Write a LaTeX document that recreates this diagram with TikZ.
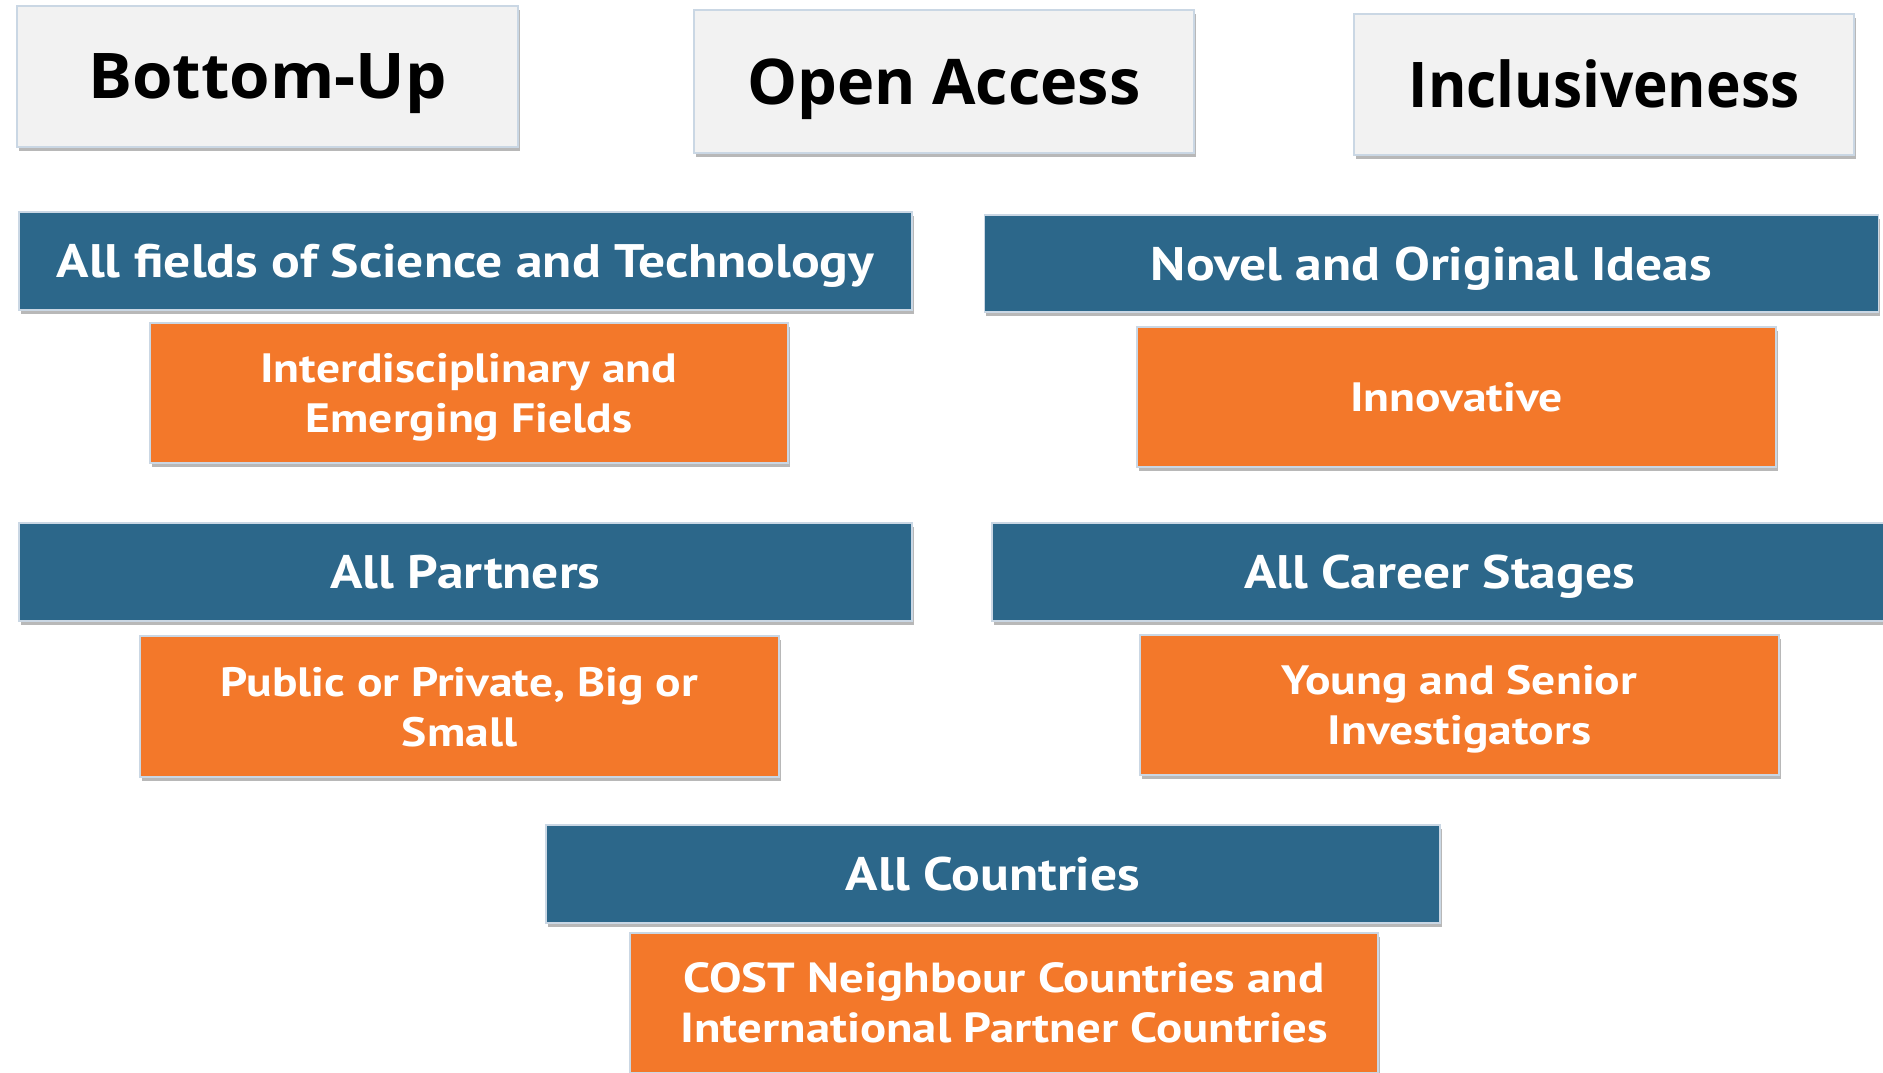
\documentclass[tikz,border=0pt]{standalone}
\usepackage{fontspec}
\usetikzlibrary{shadows}
\newfontfamily\headfont{Open Sans}
\newfontfamily\headwide{Open Sans}[FakeStretch=1.04]
\newfontfamily\headnarrow{Open Sans}[FakeStretch=0.93]
\newfontfamily\gillblue{PT Sans}[FakeStretch=1.14]
\newfontfamily\gillorange{PT Sans}[FakeStretch=1.16]
\definecolor{grayfill}{HTML}{F2F2F2}
\definecolor{boxedge}{HTML}{CAD7E4}
\definecolor{costblue}{HTML}{2C678A}
\definecolor{costorange}{HTML}{F3782A}
\tikzset{
  basebox/.style={rectangle, inner sep=0pt, line width=1.5pt, draw=boxedge, align=center, text depth=0pt,
    drop shadow={shadow xshift=1.5pt, shadow yshift=-4pt, fill=black, opacity=0.28}},
  graybox/.style={basebox, fill=grayfill, text=black, text height=45pt,
    font=\headfont\bfseries\fontsize{63}{76}\selectfont},
  bluebox/.style={basebox, fill=costblue, text=white, text height=33pt,
    font=\gillblue\bfseries\fontsize{47}{56}\selectfont},
  orangebox/.style={basebox, fill=costorange, text=white, text height=29pt,
    font=\gillorange\bfseries\fontsize{41}{50}\selectfont},
  orangetwo/.style={orangebox, text height=79pt},
}
\begin{document}
\begin{tikzpicture}[x=1pt, y=-1pt]
\useasboundingbox (0,0) rectangle (1883,1073);
\node[graybox, font=\headwide\bfseries\fontsize{63}{76}\selectfont, minimum width=501pt, minimum height=141pt] (g1) at (267.5,76.5) {Bottom-Up};
\node[graybox, minimum width=500pt, minimum height=143pt] (g2) at (944,81.5) {Open Access};
\node[graybox, font=\headnarrow\bfseries\fontsize{63}{76}\selectfont, minimum width=500pt, minimum height=141pt] (g3) at (1604,84.5) {Inclusiveness};

\node[bluebox, minimum width=893pt, minimum height=98pt] (b1) at (465.5,261) {All fields of Science and Technology};
\node[orangetwo, minimum width=638pt, minimum height=140pt] (o1) at (469,393) {Interdisciplinary and\\Emerging Fields};

\node[bluebox, minimum width=894pt, minimum height=97pt] (b2) at (1431.5,263.5) {Novel and Original Ideas};
\node[orangebox, minimum width=639pt, minimum height=140pt] (o2) at (1456.5,397) {Innovative};

\node[bluebox, minimum width=893pt, minimum height=98pt] (b3) at (465.5,572) {All Partners};
\node[orangetwo, minimum width=639pt, minimum height=141pt] (o3) at (459.5,706.5) {Public or Private, Big or\\Small};

\node[bluebox, minimum width=895pt, minimum height=98pt] (b4) at (1439.5,572) {All Career Stages};
\node[orangetwo, minimum width=639pt, minimum height=140pt] (o4) at (1459.5,705) {Young and Senior\\Investigators};

\node[bluebox, minimum width=894pt, minimum height=98pt] (b5) at (993,874) {All Countries};
\node[orangetwo, font=\gillorange\bfseries\fontsize{42}{50}\selectfont, minimum width=748pt, minimum height=140pt] (o5) at (1004,1003) {COST Neighbour Countries and\\International Partner Countries};
\end{tikzpicture}
\end{document}
